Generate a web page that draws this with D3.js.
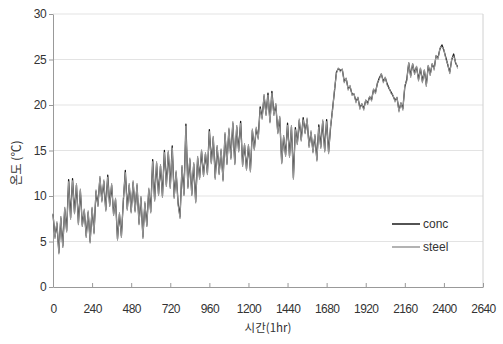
<!DOCTYPE html>
<html>
<head>
<meta charset="utf-8">
<script src="https://cdn.jsdelivr.net/npm/d3@7/dist/d3.min.js"></script>
<style>
  body { margin: 0; background: #fff; }
  text { font-family: "Liberation Sans", Arial, sans-serif; }
</style>
</head>
<body>
<svg id="chart" width="503" height="344"></svg>
<script>
// Temperature readings sampled every 12 hours (°C)
const conc = [
  8.0, 5.5, 7.0, 3.8, 7.6, 4.5, 8.6, 6.2, 11.8, 7.6,
  11.9, 8.2, 11.2, 7.0, 10.6, 6.8, 8.4, 5.6, 8.2, 5.0,
  8.6, 6.0, 10.5, 9.0, 12.0, 9.5, 11.6, 8.5, 12.3, 9.0,
  11.2, 8.0, 9.6, 5.3, 8.0, 5.6, 9.5, 12.8, 8.6, 11.2,
  8.3, 11.5, 8.4, 11.2, 7.0, 9.8, 5.5, 9.2, 6.8, 10.7,
  8.3, 14.0, 9.6, 13.6, 10.2, 13.3, 10.0, 15.0, 11.2, 14.8,
  11.0, 15.5, 9.9, 12.6, 9.2, 7.7, 13.2, 10.2, 17.9, 11.0,
  14.0, 10.2, 13.5, 9.4, 14.2, 12.0, 14.9, 12.3, 14.6, 12.5,
  17.3, 13.7, 16.4, 12.0, 15.4, 12.5, 15.0, 11.8, 16.8, 13.6,
  17.3, 14.2, 18.0, 13.6, 17.6, 15.0, 18.2, 13.4, 15.6, 13.0,
  15.5, 12.8, 17.2, 15.2, 17.4, 16.4, 19.8, 18.6, 21.0, 19.0,
  21.3, 18.2, 21.5, 19.0, 20.0, 17.0, 18.6, 13.7, 16.5, 14.5,
  18.0, 14.4, 17.6, 12.0, 17.5, 15.8, 18.3, 16.2, 18.6, 17.0,
  18.4, 15.5, 17.0, 14.9, 16.6, 14.0, 17.8, 15.4, 18.2, 15.0,
  18.4, 14.8, 17.5, 19.5, 21.5, 23.6, 24.0, 23.8, 23.9, 22.6,
  22.9, 21.8, 22.0, 21.2, 21.2, 20.4, 20.8, 19.7, 20.1, 19.6,
  20.5, 20.2, 20.9, 20.6, 21.7, 21.4, 22.4, 23.0, 23.4, 22.6,
  23.0, 22.3, 21.8, 21.4, 21.0, 20.5, 20.8, 19.4, 20.2, 19.6,
  22.0, 22.8, 24.6, 23.2, 24.5, 23.5, 24.2, 22.8, 24.0, 22.6,
  23.8, 22.2, 24.3, 23.4, 24.5, 24.0, 25.4, 25.2, 26.2, 26.6,
  26.0, 25.2, 24.4, 23.6, 25.0, 25.6, 24.6, 24.2
];
const steel = [
  8.1, 5.3, 7.2, 3.6, 7.8, 4.3, 8.8, 6.0, 11.6, 7.4,
  11.7, 8.0, 11.4, 6.8, 10.8, 6.6, 8.6, 5.4, 8.4, 4.8,
  8.8, 5.8, 10.7, 8.8, 12.2, 9.3, 11.8, 8.3, 12.1, 8.8,
  11.4, 7.8, 9.8, 5.1, 8.2, 5.4, 9.7, 12.6, 8.4, 11.4,
  8.1, 11.7, 8.2, 11.4, 6.8, 10.0, 5.3, 9.4, 6.6, 10.9,
  8.1, 13.8, 9.4, 13.8, 10.0, 13.5, 9.8, 14.8, 11.0, 15.0,
  10.8, 15.3, 9.7, 12.8, 9.0, 7.5, 13.4, 10.0, 17.7, 10.8,
  14.2, 10.0, 13.7, 9.2, 14.4, 11.8, 15.1, 12.1, 14.8, 12.3,
  17.1, 13.5, 16.6, 11.8, 15.6, 12.3, 15.2, 11.6, 17.0, 13.4,
  17.5, 14.0, 18.2, 13.4, 17.8, 14.8, 18.0, 13.2, 15.8, 12.8,
  15.7, 12.6, 17.4, 15.0, 17.6, 16.2, 19.6, 18.4, 21.2, 18.8,
  21.1, 18.0, 21.3, 18.8, 20.2, 16.8, 18.8, 13.5, 16.7, 14.3,
  17.8, 14.2, 17.8, 11.8, 17.3, 15.6, 18.5, 16.0, 18.4, 16.8,
  18.6, 15.3, 17.2, 14.7, 16.8, 13.8, 17.6, 15.2, 18.4, 14.8,
  18.2, 14.6, 17.7, 19.3, 21.7, 23.4, 24.1, 23.6, 24.0, 22.4,
  23.0, 21.6, 22.2, 21.0, 21.3, 20.2, 20.9, 19.5, 20.2, 19.4,
  20.6, 20.0, 21.0, 20.4, 21.8, 21.2, 22.5, 22.8, 23.5, 22.4,
  23.1, 22.1, 21.9, 21.2, 21.1, 20.3, 20.9, 19.2, 20.3, 19.4,
  22.2, 22.6, 24.7, 23.0, 24.6, 23.3, 24.3, 22.6, 24.1, 22.4,
  23.9, 22.0, 24.4, 23.2, 24.6, 23.8, 25.5, 25.0, 26.3, 26.4,
  26.1, 25.0, 24.5, 23.4, 25.1, 25.4, 24.7, 24.0
];
const stepHours = 12;
const hours = conc.map((_, i) => i * stepHours);

const xTicks = [0, 240, 480, 720, 960, 1200, 1440, 1680, 1920, 2160, 2400, 2640];
const yTicks = [0, 5, 10, 15, 20, 25, 30];
const seriesNames = ["conc", "steel"];
const seriesColors = ["#1a1a1a", "#9a9a9a"];

const svg = d3.select("#chart");
const plotL = 53, plotR = 483, plotT = 14, plotB = 287;

const x = d3.scaleLinear().domain([0, 2640]).range([plotL, plotR]);
const y = d3.scaleLinear().domain([0, 30]).range([plotB, plotT]);

// horizontal gridlines
svg.append("g")
  .selectAll("line")
  .data(yTicks.filter(v => v > 0))
  .join("line")
  .attr("x1", plotL).attr("x2", plotR)
  .attr("y1", d => y(d)).attr("y2", d => y(d))
  .attr("stroke", "#e3e3e3").attr("stroke-width", 1);

// right frame edge
svg.append("line")
  .attr("x1", plotR).attr("x2", plotR)
  .attr("y1", plotT).attr("y2", plotB)
  .attr("stroke", "#d0d0d0");

// x axis (ticks point inward)
const xAxis = svg.append("g")
  .attr("transform", `translate(0,${plotB})`)
  .call(d3.axisBottom(x).tickValues(xTicks).tickSizeInner(-4).tickSizeOuter(0).tickPadding(17).tickFormat(d3.format("d")));
xAxis.select(".domain").attr("stroke", "#999");
xAxis.selectAll(".tick line").attr("stroke", "#999");
xAxis.selectAll("text").attr("font-size", 12).attr("fill", "#333").attr("letter-spacing", "-0.6px");

// y axis
const yAxis = svg.append("g")
  .attr("transform", `translate(${plotL},0)`)
  .call(d3.axisLeft(y).tickValues(yTicks).tickSizeInner(4).tickSizeOuter(0).tickPadding(3));
yAxis.select(".domain").attr("stroke", "#999");
yAxis.selectAll(".tick line").attr("stroke", "#999");
yAxis.selectAll("text").attr("font-size", 12).attr("fill", "#333").attr("letter-spacing", "-0.6px");

// axis titles
svg.append("text")
  .attr("x", (plotL + plotR) / 2).attr("y", 332)
  .attr("text-anchor", "middle")
  .attr("font-size", 11.5).attr("fill", "#333")
  .style("font-family", "'Noto Sans CJK KR', sans-serif")
  .text("시간(1hr)");
svg.append("text")
  .attr("transform", "translate(21,163) rotate(-90)")
  .attr("text-anchor", "middle")
  .attr("font-size", 12).attr("fill", "#333")
  .style("font-family", "'Noto Sans CJK KR', sans-serif")
  .text("온도 (℃)");

// series lines: conc underneath, steel drawn over it
const line = d3.line()
  .x((d, i) => x(hours[i]))
  .y(d => y(d));

[conc, steel].forEach((vals, k) => {
  svg.append("path")
    .datum(vals)
    .attr("d", line)
    .attr("fill", "none")
    .attr("stroke", seriesColors[k])
    .attr("stroke-width", k === 0 ? 1.3 : 1)
    .attr("stroke-linejoin", "round");
});

// legend
const legend = svg.append("g");
seriesNames.forEach((name, k) => {
  const ly = 224 + k * 23;
  legend.append("line")
    .attr("x1", 392).attr("x2", 420)
    .attr("y1", ly).attr("y2", ly)
    .attr("stroke", seriesColors[k]).attr("stroke-width", 1.5);
  legend.append("text")
    .attr("x", 423).attr("y", ly + 4)
    .attr("font-size", 12).attr("fill", "#333")
    .text(name);
});
</script>
</body>
</html>
